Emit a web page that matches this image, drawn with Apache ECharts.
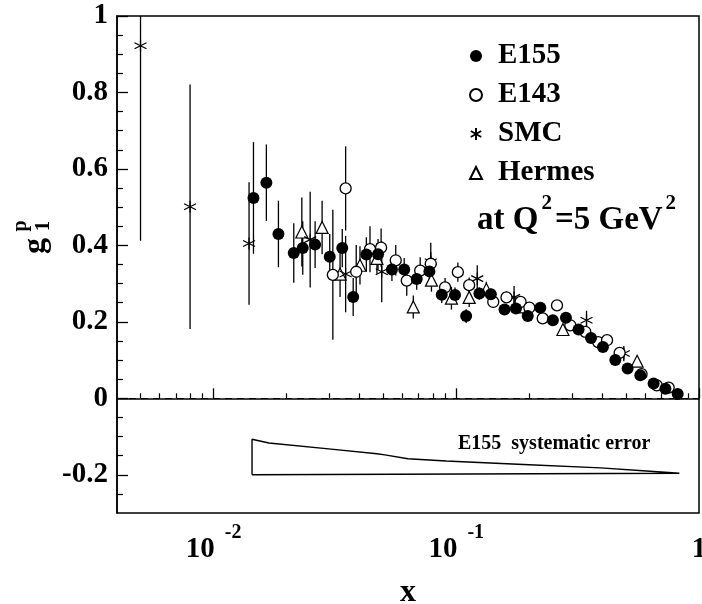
<!DOCTYPE html>
<html><head><meta charset="utf-8">
<script src="https://cdn.jsdelivr.net/npm/echarts@6/dist/echarts.min.js"></script>
<style>html,body{margin:0;padding:0;background:#fff}#c{width:702px;height:604px}</style>
</head><body><div id="c"></div>
<script>
const FONT = '"Liberation Serif", "Times New Roman", serif';

// E155
const e155X = [0.0146,0.0165,0.0185,0.0214,0.0233,0.0262,0.0301,0.0339,0.0376,0.0426,0.0476,0.0543,0.061,0.0687,0.0775,0.0871,0.0988,0.1098,0.1245,0.1388,0.158,0.176,0.197,0.222,0.25,0.283,0.319,0.359,0.402,0.452,0.508,0.573,0.65,0.727,0.817];
const e155Y = [0.524,0.564,0.430,0.380,0.393,0.402,0.370,0.393,0.265,0.376,0.377,0.337,0.337,0.312,0.332,0.271,0.270,0.215,0.274,0.272,0.232,0.235,0.215,0.237,0.204,0.211,0.180,0.158,0.134,0.100,0.078,0.060,0.039,0.025,0.011];
const e155Err = [0.146,0.10,0.087,0.078,0.07,0.061,0.06,0.05,0.05,0.045,0.04,0.03,0.03,0.028,0.025,0.022,0.02,0.018,0.016,0.015,0.014,0.013,0.012,0.012,0.011,0.01,0.01,0.009,0.009,0.008,0.008,0.007,0.007,0.006,0.006];

// E143
const e143X = [0.0310,0.0350,0.0387,0.0441,0.049,0.0563,0.0625,0.071,0.0785,0.0899,0.1015,0.113,0.142,0.161,0.184,0.200,0.227,0.26,0.295,0.34,0.384,0.418,0.471,0.58,0.67,0.75];
const e143Y = [0.323,0.549,0.331,0.390,0.394,0.361,0.308,0.334,0.352,0.290,0.330,0.296,0.252,0.264,0.252,0.237,0.209,0.243,0.191,0.174,0.147,0.152,0.119,0.063,0.034,0.028];
const e143Err = [0.17,0.11,0.07,0.06,0.05,0.04,0.04,0.035,0.03,0.025,0.025,0.02,0.015,0.015,0.014,0.013,0.012,0.012,0.011,0.01,0.01,0.01,0.009,0.008,0.008,0.007];

// SMC
const smcX = [0.005,0.008,0.014,0.025,0.035,0.0493,0.0785,0.122,0.173,0.344,0.49];
const smcY = [0.922,0.501,0.405,0.415,0.325,0.331,0.357,0.313,0.264,0.204,0.117];
const smcErr = [0.51,0.32,0.16,0.125,0.1,0.08,0.05,0.035,0.03,0.025,0.02];

// Hermes
const hermesX = [0.0231,0.0280,0.0332,0.0401,0.0471,0.0665,0.079,0.0955,0.113,0.133,0.192,0.275,0.556];
const hermesY = [0.435,0.447,0.325,0.348,0.366,0.239,0.309,0.262,0.264,0.285,0.239,0.180,0.097];
const hermesErr = [0.09,0.07,0.06,0.05,0.04,0.03,0.03,0.03,0.025,0.02,0.015,0.012,0.01];

// E155 systematic error band outline
const bandX = [0.0144,0.0144,0.0169,0.0305,0.0471,0.0508,0.0632,0.0908,0.189,0.393,0.607,0.83,0.83,0.0144];
const bandY = [-0.2,-0.107,-0.117,-0.133,-0.145,-0.148,-0.158,-0.164,-0.173,-0.182,-0.190,-0.196,-0.2,-0.2];

// ticks
const xMajorTicks = [0.01,0.1,1];
const xMinorTicks = [0.005,0.006,0.007,0.008,0.009,0.02,0.03,0.04,0.05,0.06,0.07,0.08,0.09,0.2,0.3,0.4,0.5,0.6,0.7,0.8,0.9];
const yMajorTicks = [-0.2,0,0.2,0.4,0.6,0.8,1];
const yMinorTicks = [-0.25,-0.15,-0.1,-0.05,0.05,0.1,0.15,0.25,0.3,0.35,0.45,0.5,0.55,0.65,0.7,0.75,0.85,0.9,0.95];

const zip = (xs, ys) => xs.map((x, i) => [x, ys[i]]);
const errs = (xs, ys, es) => xs.map((x, i) => [x, ys[i] - es[i], ys[i] + es[i]]);

const asterisk = 'path://M0,-10 L0,10 M-8.66,-5 L8.66,5 M-8.66,5 L8.66,-5';

function errSeries(name, xs, ys, es) {
  return {
    type: 'custom', name: name + ' err', xAxisIndex: 0, yAxisIndex: 0, clip: true, silent: true, z: 2,
    data: errs(xs, ys, es),
    encode: { x: 0, y: [1, 2] },
    renderItem: (params, api) => {
      const x = api.value(0);
      const p1 = api.coord([x, api.value(1)]);
      const p2 = api.coord([x, api.value(2)]);
      return { type: 'line', shape: { x1: p1[0], y1: p1[1], x2: p2[0], y2: p2[1] }, style: { stroke: '#000', lineWidth: 1.3 } };
    }
  };
}

const axisCommon = {
  type: 'log', logBase: 10, min: 0.004, max: 1, position: 'bottom', splitLine: { show: false }
};

const chart = echarts.init(document.getElementById('c'), null, { renderer: 'canvas' });
chart.setOption({
  backgroundColor: '#fff',
  animation: false,
  grid: { left: 117, right: 3, top: 16, bottom: 91, outerBoundsMode: 'none', containLabel: false, show: true, borderColor: '#000', borderWidth: 1.5, backgroundColor: 'transparent' },
  xAxis: [
    Object.assign({}, axisCommon, {
      axisLine: { show: true, lineStyle: { color: '#000', width: 1.5 } },
      axisTick: { show: true, inside: true, length: 10, customValues: xMajorTicks, lineStyle: { color: '#000', width: 1.3 } },
      axisLabel: {
        show: true, customValues: xMajorTicks, margin: 10,
        formatter: v => {
          const e = Math.round(Math.log10(v));
          return e === 0 ? '{b|1}' : '{b|10}{s|' + e + '}';
        },
        rich: {
          b: { fontFamily: FONT, fontWeight: 'bold', fontSize: 29, color: '#000', verticalAlign: 'bottom', padding: [12, 0, 0, 0] },
          s: { fontFamily: FONT, fontWeight: 'bold', fontSize: 20, color: '#000', verticalAlign: 'top', padding: [0, 0, 0, 10] }
        }
      },
      name: 'x', nameLocation: 'middle', nameGap: 64,
      nameTextStyle: { fontFamily: FONT, fontWeight: 'bold', fontSize: 32, color: '#000' }
    }),
    Object.assign({}, axisCommon, {
      axisLine: { show: false },
      axisTick: { show: true, inside: true, length: 5, customValues: xMinorTicks, lineStyle: { color: '#000', width: 1.2 } },
      axisLabel: { show: false }
    })
  ],
  yAxis: [
    {
      type: 'value', min: -0.3, max: 1, position: 'left', splitLine: { show: false },
      axisLine: { show: true, lineStyle: { color: '#000', width: 1.5 } },
      axisTick: { show: true, inside: true, length: 11, customValues: yMajorTicks, lineStyle: { color: '#000', width: 1.3 } },
      axisLabel: {
        show: true, customValues: yMajorTicks, margin: 9,
        formatter: v => (Math.abs(v) < 1e-9 ? '0' : String(+v.toFixed(1))),
        fontFamily: FONT, fontWeight: 'bold', fontSize: 29, color: '#000'
      }
    },
    {
      type: 'value', min: -0.3, max: 1, position: 'left', offset: 0, splitLine: { show: false },
      axisLine: { show: false },
      axisTick: { show: true, inside: true, length: 6, customValues: yMinorTicks, lineStyle: { color: '#000', width: 1.2 } },
      axisLabel: { show: false }
    }
  ],
  legend: {
    data: ['E155', 'E143', 'SMC', 'Hermes'],
    orient: 'vertical', left: 469, top: 41, padding: 0,
    itemWidth: 12, itemHeight: 12, itemGap: 9,
    textStyle: { fontFamily: FONT, fontWeight: 'bold', fontSize: 29, color: '#000', lineHeight: 30, padding: [0, 0, 0, 11] },
    selectedMode: false
  },
  graphic: [
    { type: 'text', x: 477, y: 215, style: {
        text: '{n|at Q}{s|2}{n|=5 GeV}{s|2}', verticalAlign: 'middle', textVerticalAlign: 'middle',
        rich: {
          n: { fontFamily: FONT, fontWeight: 'bold', fontSize: 33, fill: '#000', color: '#000', verticalAlign: 'bottom', padding: [10, 0, 0, 0] },
          s: { fontFamily: FONT, fontWeight: 'bold', fontSize: 21, fill: '#000', color: '#000', verticalAlign: 'top', padding: [0, 3, 0, 3] }
        } } },
    { type: 'text', x: 458, y: 444, style: { text: 'E155  systematic error', font: 'bold 20px ' + FONT, fill: '#000', verticalAlign: 'middle', textVerticalAlign: 'middle' } },
    { type: 'text', x: 36, y: 246, rotation: Math.PI / 2, style: { text: 'g', font: 'bold 32px ' + FONT, fill: '#000', align: 'center', textAlign: 'center', verticalAlign: 'middle', textVerticalAlign: 'middle' } },
    { type: 'text', x: 44, y: 226, rotation: Math.PI / 2, style: { text: '1', font: 'bold 20px ' + FONT, fill: '#000', align: 'center', textAlign: 'center', verticalAlign: 'middle', textVerticalAlign: 'middle' } },
    { type: 'text', x: 21, y: 226, rotation: Math.PI / 2, style: { text: 'p', font: 'bold 20px ' + FONT, fill: '#000', align: 'center', textAlign: 'center', verticalAlign: 'middle', textVerticalAlign: 'middle' } }
  ],
  series: [
    {
      type: 'line', name: 'band', xAxisIndex: 0, yAxisIndex: 0, data: zip(bandX, bandY),
      showSymbol: false, symbol: 'none', silent: true, z: 1,
      lineStyle: { color: '#000', width: 1.4 },
      markLine: {
        silent: true, symbol: 'none', label: { show: false },
        lineStyle: { color: '#000', width: 1.2, type: [7, 5] },
        data: [{ yAxis: 0 }]
      }
    },
    errSeries('E155', e155X, e155Y, e155Err),
    errSeries('E143', e143X, e143Y, e143Err),
    errSeries('SMC', smcX, smcY, smcErr),
    errSeries('Hermes', hermesX, hermesY, hermesErr),
    { type: 'scatter', name: 'Hermes', xAxisIndex: 0, yAxisIndex: 0, data: zip(hermesX, hermesY), symbol: 'triangle', symbolSize: 12, z: 3,
      itemStyle: { color: '#fff', borderColor: '#000', borderWidth: 1.2, opacity: 1 } },
    { type: 'scatter', name: 'SMC', xAxisIndex: 0, yAxisIndex: 0, data: zip(smcX, smcY), symbol: asterisk, symbolSize: 12, z: 3,
      itemStyle: { color: '#000', borderColor: '#000', borderWidth: 1.2, opacity: 1 } },
    { type: 'scatter', name: 'E143', xAxisIndex: 0, yAxisIndex: 0, data: zip(e143X, e143Y), symbol: 'circle', symbolSize: 11, z: 4,
      itemStyle: { color: '#fff', borderColor: '#000', borderWidth: 1.3, opacity: 1 } },
    { type: 'scatter', name: 'E155', xAxisIndex: 0, yAxisIndex: 0, data: zip(e155X, e155Y), symbol: 'circle', symbolSize: 12, z: 5,
      itemStyle: { color: '#000', borderColor: '#000', borderWidth: 0, opacity: 1 } }
  ]
});
</script>
</body></html>
